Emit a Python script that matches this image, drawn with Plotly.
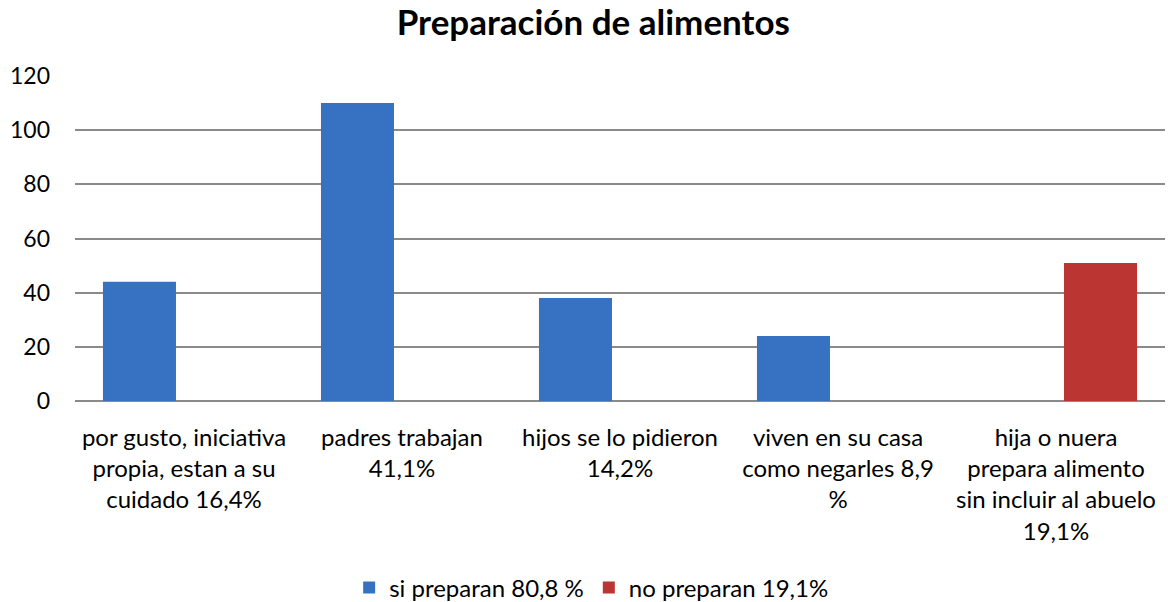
import plotly.graph_objects as go

categories = [
    "por gusto, iniciativa<br>propia, estan a su<br>cuidado 16,4%",
    "padres trabajan<br>41,1%",
    "hijos se lo pidieron<br>14,2%",
    "viven en su casa<br>como negarles 8,9<br>%",
    "hija o nuera<br>prepara alimento<br>sin incluir al abuelo<br>19,1%",
]
si_preparan = [44, 110, 38, 24, 0]
no_preparan = [0, 0, 0, 0, 51]
series_names = ["si preparan 80,8 %", "no preparan 19,1%"]

FONT = "Lato"

fig = go.Figure()
fig.add_trace(go.Bar(x=categories, y=si_preparan, name=series_names[0],
                     marker=dict(color="#3772c2", line=dict(width=0))))
fig.add_trace(go.Bar(x=categories, y=no_preparan, name=series_names[1],
                     marker=dict(color="#bb3533", line=dict(width=0))))

fig.update_layout(
    width=1168, height=602,
    barmode="group", bargap=0.183, bargroupgap=0.18,
    plot_bgcolor="white", paper_bgcolor="white",
    margin=dict(l=75, r=3, t=76, b=201, autoexpand=False),
    title=dict(text="<b>Preparación de alimentos</b>", x=0.508, xanchor="center",
               y=0.963, yanchor="middle",
               font=dict(family=FONT, size=35, color="black")),
    font=dict(family=FONT, size=24, color="black"),
    showlegend=True,
    legend=dict(orientation="h", x=0.474, xanchor="center", y=-0.575, yanchor="middle",
                font=dict(family=FONT, size=24, color="black"), itemwidth=30,
                traceorder="normal"),
)
fig.update_yaxes(range=[0, 120], dtick=20, showgrid=True, gridcolor="#8a8a8a", gridwidth=1.6,
                 zeroline=True, zerolinecolor="#8a8a8a", zerolinewidth=1.6,
                 showline=False, ticks="", automargin=False, ticklabelstandoff=24,
                 tickfont=dict(family=FONT, size=23, color="black"))
fig.update_xaxes(showline=False, ticks="", tickangle=0, automargin=False, ticklabelstandoff=20,
                 tickfont=dict(family=FONT, size=24, color="black"))

fig.write_html("out.html", config={"displayModeBar": False},
               post_script="document.body.style.margin='0px';document.body.style.padding='0px';")
